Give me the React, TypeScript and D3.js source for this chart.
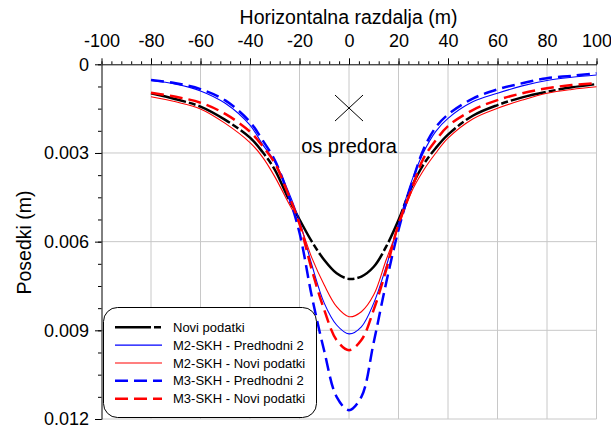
import React, { useEffect, useRef } from 'react'
import * as d3 from 'd3'

// horizontal distance (m)
const distances = [-80, -70, -60, -50, -40, -35, -30, -25, -20, -15, -10, -5, 0, 5, 10, 15, 20, 25, 30, 35, 40, 50, 60, 70, 80, 90, 100]

// settlements (m)
const noviPodatki = [0.00098, 0.00118, 0.00143, 0.00188, 0.00248, 0.00296, 0.00356, 0.00445, 0.00525, 0.006, 0.00662, 0.00707, 0.00726, 0.00718, 0.00685, 0.00617, 0.00527, 0.0042, 0.0034, 0.00284, 0.00238, 0.00174, 0.00138, 0.00112, 0.00093, 0.00078, 0.00067]
const m2Predhodni = [0.00055, 0.00067, 0.0009, 0.00132, 0.00206, 0.0027, 0.0033, 0.0042, 0.0053, 0.00679, 0.00808, 0.00882, 0.00912, 0.00888, 0.00808, 0.00685, 0.0054, 0.00402, 0.003, 0.00228, 0.00183, 0.00127, 0.00098, 0.00073, 0.00055, 0.00044, 0.00036]
const m2Novi = [0.0011, 0.00127, 0.00151, 0.002, 0.00265, 0.00313, 0.0038, 0.0046, 0.0054, 0.00655, 0.00747, 0.0082, 0.00854, 0.00837, 0.0078, 0.00662, 0.0055, 0.00436, 0.0036, 0.00301, 0.0025, 0.00185, 0.00149, 0.00121, 0.00098, 0.00085, 0.00076]
const m3Predhodni = [0.00053, 0.00064, 0.00084, 0.00122, 0.00195, 0.00256, 0.00324, 0.0043, 0.0057, 0.00786, 0.0097, 0.01125, 0.0117, 0.01125, 0.0094, 0.0074, 0.0056, 0.00414, 0.0029, 0.00214, 0.0017, 0.00116, 0.00085, 0.00064, 0.00047, 0.00039, 0.0003]
const m3Novi = [0.00096, 0.0011, 0.0013, 0.00168, 0.00228, 0.00276, 0.00334, 0.0043, 0.0054, 0.00696, 0.00831, 0.00933, 0.00967, 0.00933, 0.0083, 0.00696, 0.0054, 0.0043, 0.0032, 0.00258, 0.00209, 0.00155, 0.00121, 0.00098, 0.00081, 0.0007, 0.00064]

const seriesNames = ['Novi podatki', 'M2-SKH - Predhodni 2', 'M2-SKH - Novi podatki', 'M3-SKH - Predhodni 2', 'M3-SKH - Novi podatki']
const seriesValues = [noviPodatki, m2Predhodni, m2Novi, m3Predhodni, m3Novi]
const seriesColors = ['#000000', '#0000ff', '#ff0000', '#0000ff', '#ff0000']
const seriesWidths = [2.5, 1.1, 1.1, 2.5, 2.5]
const seriesDash = ['36 3 7 3', null, null, '13 6', '13 6']

const xTicks = [-100, -80, -60, -40, -20, 0, 20, 40, 60, 80, 100]
const yTicks = [0, 0.003, 0.006, 0.009, 0.012]

// tunnel axis marker
const tunnelAxis = { x: 0, y: 0.00148, label: 'os predora' }

const FONT = 'Liberation Sans, Arial, sans-serif'

const App = () => {
  const ref = useRef(null)

  useEffect(() => {
    const width = 611
    const height = 428
    const svg = d3.select(ref.current).attr('width', width).attr('height', height)
    svg.selectAll('*').remove()

    const x = d3.scaleLinear().domain([-100, 100]).range([101.5, 596.5])
    const y = d3.scaleLinear().domain([0, 0.012]).range([64.3, 419])

    // grid
    const grid = svg.append('g').attr('stroke', '#c8c8c8').attr('stroke-width', 1)
    grid
      .selectAll('line.v')
      .data(xTicks.filter((d) => d > -100))
      .enter()
      .append('line')
      .attr('x1', (d) => x(d))
      .attr('x2', (d) => x(d))
      .attr('y1', y(0))
      .attr('y2', y(0.012))
    grid
      .selectAll('line.h')
      .data(yTicks.filter((d) => d > 0))
      .enter()
      .append('line')
      .attr('x1', x(-100))
      .attr('x2', x(100))
      .attr('y1', (d) => y(d))
      .attr('y2', (d) => y(d))

    // minor ticks
    svg
      .append('g')
      .attr('transform', `translate(0,${y(0)})`)
      .call(d3.axisTop(x).tickValues(d3.range(-100, 100.1, 4)).tickSize(3).tickSizeOuter(0).tickFormat(() => ''))
      .call((g) => g.select('.domain').remove())
    svg
      .append('g')
      .attr('transform', `translate(${x(-100)},0)`)
      .call(d3.axisLeft(y).tickValues(d3.range(0, 0.01201, 0.00075)).tickSize(3.5).tickSizeOuter(0).tickFormat(() => ''))
      .call((g) => g.select('.domain').remove())

    // major axes
    const top = svg
      .append('g')
      .attr('transform', `translate(0,${y(0)})`)
      .call(
        d3
          .axisTop(x)
          .tickValues(xTicks)
          .tickSize(6)
          .tickSizeOuter(0)
          .tickPadding(11.5)
          .tickFormat((d) => String(d))
      )
    top.selectAll('text').attr('font-size', 18).attr('font-family', FONT).attr('fill', '#000')

    const left = svg
      .append('g')
      .attr('transform', `translate(${x(-100)},0)`)
      .call(
        d3
          .axisLeft(y)
          .tickValues(yTicks)
          .tickSize(6.5)
          .tickSizeOuter(0)
          .tickPadding(6)
          .tickFormat((d) => (d === 0 ? '0' : d3.format('.3f')(d)))
      )
    left.selectAll('text').attr('font-size', 18).attr('font-family', FONT).attr('fill', '#000')

    // axis titles
    svg
      .append('text')
      .attr('x', 348.5)
      .attr('y', 24)
      .attr('text-anchor', 'middle')
      .attr('font-size', 19.5)
      .attr('font-family', FONT)
      .text('Horizontalna razdalja (m)')
    svg
      .append('text')
      .attr('transform', 'translate(31,242.5) rotate(-90)')
      .attr('text-anchor', 'middle')
      .attr('font-size', 19.5)
      .attr('font-family', FONT)
      .text('Posedki (m)')

    // curves
    const line = d3
      .line()
      .x((d) => x(d[0]))
      .y((d) => y(d[1]))
      .curve(d3.curveCatmullRom.alpha(0.5))

    seriesValues.forEach((vals, i) => {
      svg
        .append('path')
        .datum(distances.map((dx, j) => [dx, vals[j]]))
        .attr('d', line)
        .attr('fill', 'none')
        .attr('stroke', seriesColors[i])
        .attr('stroke-width', seriesWidths[i])
        .attr('stroke-dasharray', seriesDash[i])
    })

    // tunnel axis marker
    const mx = x(tunnelAxis.x)
    const my = y(tunnelAxis.y)
    svg
      .append('path')
      .attr('d', `M${mx - 14},${my - 13}L${mx + 14},${my + 13}M${mx - 14},${my + 13}L${mx + 14},${my - 13}`)
      .attr('stroke', '#000')
      .attr('stroke-width', 1)
    svg
      .append('text')
      .attr('x', mx)
      .attr('y', my + 44.5)
      .attr('text-anchor', 'middle')
      .attr('font-size', 20)
      .attr('font-family', FONT)
      .text(tunnelAxis.label)

    // legend
    const legend = svg.append('g')
    legend
      .append('rect')
      .attr('x', 103.5)
      .attr('y', 307.5)
      .attr('width', 213)
      .attr('height', 110)
      .attr('rx', 14)
      .attr('fill', '#fff')
      .attr('stroke', '#000')
      .attr('stroke-width', 1)
    seriesNames.forEach((name, i) => {
      const ly = 327.3 + i * 17.85
      legend
        .append('line')
        .attr('x1', 115)
        .attr('x2', 162)
        .attr('y1', ly)
        .attr('y2', ly)
        .attr('stroke', seriesColors[i])
        .attr('stroke-width', seriesWidths[i])
        .attr('stroke-dasharray', seriesDash[i])
      legend
        .append('text')
        .attr('x', 173)
        .attr('y', ly)
        .attr('dy', '0.35em')
        .attr('font-size', 13)
        .attr('font-family', FONT)
        .text(name)
    })
  }, [])

  return <svg ref={ref} style={{ position: 'absolute', left: 0, top: 0, background: '#fff' }}></svg>
}

export default App
